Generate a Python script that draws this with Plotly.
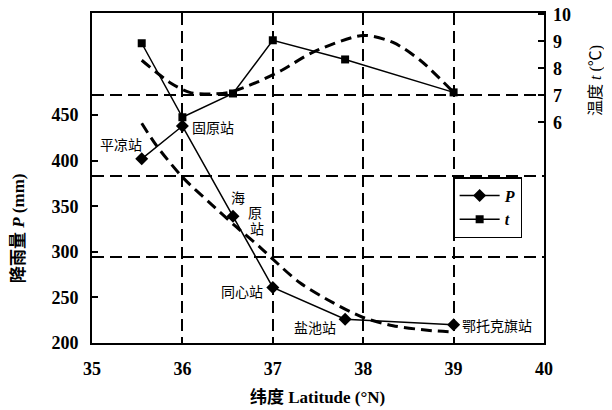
import plotly.graph_objects as go

# ---- data ----
stations = ["平凉站", "固原站", "海原站", "同心站", "盐池站", "鄂托克旗站"]
latitude = [35.55, 36.0, 36.56, 37.0, 37.8, 39.0]
precip_P = [402, 438, 339, 261, 226, 220]          # mm
temp_t = [8.93, 6.19, 7.07, 9.04, 8.33, 7.11]      # °C

# dashed trend curves
p_fit_lat = [35.55, 35.71, 36.0, 36.3, 36.6, 36.86, 37.0, 37.3, 37.67, 38.0, 38.33, 38.71, 39.0]
p_fit_val = [441, 417, 382, 354, 327, 305, 292, 266, 244, 228, 219, 214, 212]
t_fit_lat = [35.55, 35.86, 36.08, 36.3, 36.52, 36.82, 37.1, 37.44, 38.0, 38.33, 38.63, 38.89, 39.0]
t_fit_val = [8.30, 7.48, 7.11, 7.05, 7.11, 7.48, 7.93, 8.59, 9.22, 8.96, 8.30, 7.48, 7.11]

x_ticks = [35, 36, 37, 38, 39, 40]
p_ticks = [200, 250, 300, 350, 400, 450]
t_ticks = [6, 7, 8, 9, 10]
t_grid = [1, 4, 7]

SERIF = "Liberation Serif, Times New Roman, Noto Sans CJK SC, serif"
CJK = "Noto Sans CJK SC, Liberation Serif, serif"

fig = go.Figure()

# invisible trace to activate yaxis3 (dashed horizontal gridlines)
fig.add_trace(go.Scatter(x=[None], y=[None], yaxis="y3", showlegend=False, hoverinfo="skip"))

fig.add_trace(go.Scatter(
    x=latitude, y=precip_P, name="P", mode="lines+markers",
    line=dict(color="black", width=1.5),
    marker=dict(symbol="diamond", size=10, color="black"),
    yaxis="y"))
fig.add_trace(go.Scatter(
    x=latitude, y=temp_t, name="t", mode="lines+markers",
    line=dict(color="black", width=1.5),
    marker=dict(symbol="square", size=8, color="black"),
    yaxis="y2"))
fig.add_trace(go.Scatter(
    x=p_fit_lat, y=p_fit_val, mode="lines", showlegend=False,
    line=dict(color="black", width=3, dash="11px,6px", shape="spline", smoothing=0.8),
    yaxis="y"))
fig.add_trace(go.Scatter(
    x=t_fit_lat, y=t_fit_val, mode="lines", showlegend=False,
    line=dict(color="black", width=3, dash="11px,6px", shape="spline", smoothing=0.8),
    yaxis="y2"))

# station labels
ann = []
def lab(i, text, xa, dx, dy):
    ann.append(dict(x=latitude[i], y=precip_P[i], xref="x", yref="y", text=text,
                    showarrow=False, xanchor=xa, yanchor="middle", xshift=dx, yshift=dy,
                    font=dict(family=CJK, size=14, color="black")))

lab(0, stations[0], "center", -21, 15)
lab(1, stations[1], "left", 8, -1)
lab(2, stations[2][0], "center", 5, 19)
lab(2, stations[2][1], "center", 22, 4)
lab(2, stations[2][2], "center", 24, -12)
lab(3, stations[3], "right", -8, -4)
lab(4, stations[4], "right", -7, -8)
lab(5, stations[5], "left", 6, 0)

# axis titles
ann.append(dict(xref="paper", yref="paper", x=0.498, y=-0.165, showarrow=False,
                text="<b>纬度 Latitude (°N)</b>", xanchor="center", yanchor="middle",
                font=dict(family=SERIF, size=17, color="black")))
ann.append(dict(xref="paper", yref="paper", x=-0.164, y=0.348, showarrow=False,
                text="<b>降雨量 <i>P</i> (mm)</b>", textangle=-90, xanchor="center", yanchor="middle",
                font=dict(family=SERIF, size=17, color="black")))
ann.append(dict(xref="paper", yref="paper", x=1.115, y=0.797, showarrow=False,
                text="温度 <i>t</i> (℃)", textangle=-90, xanchor="center", yanchor="middle",
                font=dict(family=SERIF, size=16, color="black")))

tickfont = dict(family=SERIF, size=18, color="black", weight="bold")

# the page body adds an 8px offset, so the figure is 8px smaller and margins compensate
fig.update_layout(
    width=604, height=402,
    margin=dict(l=84, r=68, t=5, b=67, autoexpand=False),
    paper_bgcolor="white", plot_bgcolor="white",
    showlegend=True,
    legend=dict(x=0.799, y=0.503, xanchor="left", yanchor="top",
                bgcolor="white", bordercolor="black", borderwidth=1.5,
                font=dict(family=SERIF, size=16, color="black", style="italic", weight="bold"),
                itemwidth=40, tracegroupgap=0),
    annotations=ann,
    xaxis=dict(range=[35, 40], tickvals=x_ticks, ticks="", tickfont=tickfont,
               ticklabelstandoff=8, automargin=False, ticklabeloverflow="allow",
               showgrid=True, gridcolor="black", gridwidth=1.5, griddash="12px,6px",
               showline=True, linecolor="black", linewidth=2, mirror=True, zeroline=False),
    yaxis=dict(range=[200, 562], tickvals=p_ticks, ticks="inside", ticklen=6,
               tickcolor="black", tickwidth=1.5, tickfont=tickfont, ticklabelstandoff=8,
               automargin=False, ticklabeloverflow="allow",
               showgrid=False, showline=True, linecolor="black", linewidth=2,
               mirror=True, zeroline=False),
    yaxis2=dict(range=[-2.17, 10.05], tickvals=t_ticks, ticks="inside", ticklen=6,
                tickcolor="black", tickwidth=1.5, tickfont=tickfont, ticklabelstandoff=8,
                automargin=False, ticklabeloverflow="allow",
                overlaying="y", side="right", showgrid=False, showline=False, zeroline=False),
    yaxis3=dict(range=[-2.17, 10.05], tickvals=t_grid, showticklabels=False, ticks="",
                automargin=False,
                overlaying="y", side="right", showgrid=True, gridcolor="black",
                gridwidth=1.5, griddash="12px,6px", showline=False, zeroline=False),
)

fig.write_html("out.html")
